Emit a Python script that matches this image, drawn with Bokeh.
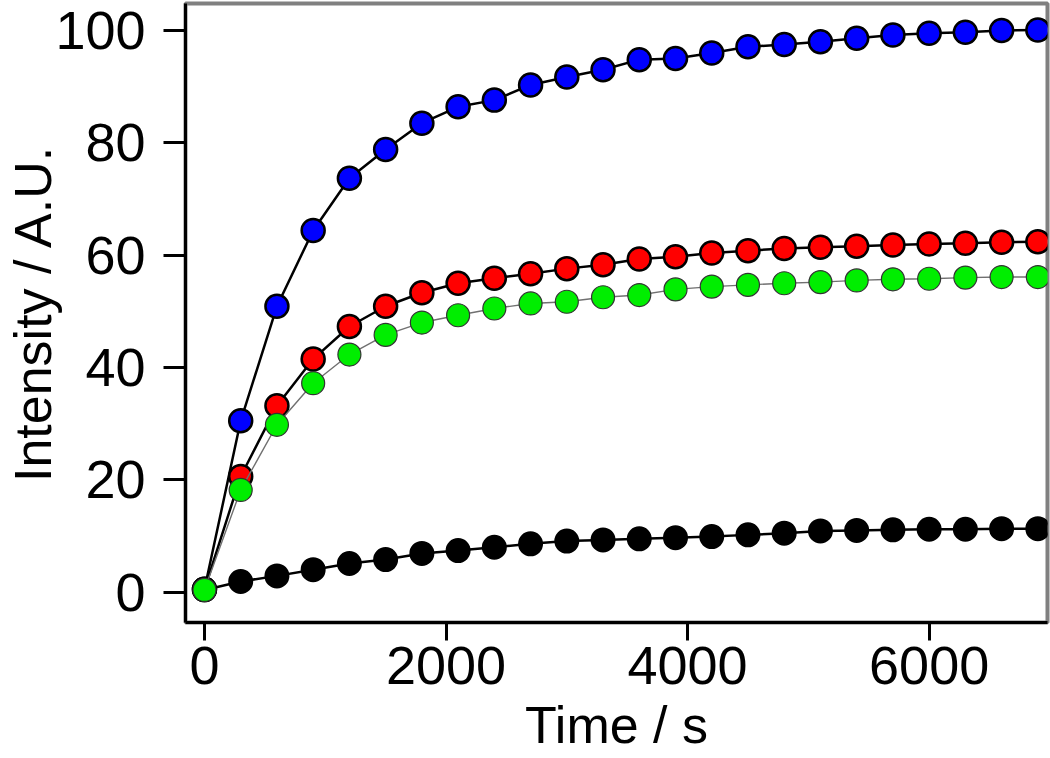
from bokeh.plotting import figure
from bokeh.models import Range1d, FixedTicker
from bokeh.embed import file_html
from bokeh.resources import INLINE

time_s = [0, 300, 600, 900, 1200, 1500, 1800, 2100, 2400, 2700, 3000, 3300,
          3600, 3900, 4200, 4500, 4800, 5100, 5400, 5700, 6000, 6300, 6600, 6900]

blue_vals = [0.5, 30.5, 50.9, 64.4, 73.7, 78.8, 83.5, 86.4, 87.6, 90.3, 91.7, 93.0,
             94.8, 95.0, 96.0, 97.1, 97.5, 98.0, 98.6, 99.2, 99.5, 99.7, 100.0, 100.1]
red_vals = [0.5, 20.6, 33.2, 41.5, 47.3, 50.9, 53.3, 55.0, 55.9, 56.7, 57.6, 58.3,
            59.3, 59.7, 60.4, 60.8, 61.2, 61.4, 61.6, 61.8, 62.0, 62.1, 62.3, 62.4]
green_vals = [0.4, 18.2, 29.8, 37.2, 42.3, 45.8, 48.0, 49.3, 50.5, 51.4, 51.7, 52.5,
              52.9, 53.9, 54.4, 54.7, 55.0, 55.2, 55.5, 55.7, 55.8, 56.0, 56.1, 56.1]
black_vals = [0.4, 1.9, 2.9, 4.0, 5.1, 5.8, 6.9, 7.4, 8.0, 8.6, 9.1, 9.3,
              9.5, 9.7, 9.9, 10.2, 10.5, 10.9, 11.0, 11.1, 11.2, 11.2, 11.3, 11.3]

x_ticks = [0, 2000, 4000, 6000]
y_ticks = [0, 20, 40, 60, 80, 100]
x_title = "Time / s"
y_title = "Intensity / A.U."

FONT = "Liberation Sans"

p = figure(width=1050, height=758, output_backend="svg", toolbar_location=None,
           x_range=Range1d(-157, 6980), y_range=Range1d(-5.4, 104.8),
           min_border_left=185, min_border_right=3, min_border_top=3,
           min_border_bottom=136)
p.grid.visible = False
p.background_fill_color = "white"
p.border_fill_color = "white"
p.outline_line_color = "#808080"
p.outline_line_width = 4

for ax in (p.xaxis, p.yaxis):
    ax.axis_line_color = "black"
    ax.axis_line_width = 3
    ax.major_tick_line_color = "black"
    ax.major_tick_line_width = 3
    ax.major_tick_in = 0
    ax.minor_tick_line_color = None
    ax.major_label_text_font = FONT
    ax.major_label_text_font_size = "54px"
    ax.major_label_text_color = "black"
    ax.axis_label_text_font = FONT
    ax.axis_label_text_font_size = "52px"
    ax.axis_label_text_font_style = "normal"
    ax.axis_label_text_color = "black"

p.xaxis.ticker = FixedTicker(ticks=x_ticks)
p.yaxis.ticker = FixedTicker(ticks=y_ticks)
p.xaxis.major_tick_out = 18
p.yaxis.major_tick_out = 22
p.xaxis.major_label_standoff = 6
p.yaxis.major_label_standoff = 18

p.xaxis.axis_label = x_title
p.xaxis.axis_label_standoff = 9
p.yaxis.axis_label = y_title
p.yaxis.axis_label_standoff = -10

series = [
    (blue_vals, "#0000FF", "black", 2.5, "black", 2.5),
    (red_vals, "#FF0000", "black", 2.5, "black", 2.5),
    (black_vals, "black", "black", 2.5, "black", 2.0),
    (green_vals, "#00EE00", "#707070", 1.4, "#333333", 1.2),
]
for vals, fill, lcol, lw, ocol, ow in series:
    p.line(time_s, vals, line_color=lcol, line_width=lw)
    p.scatter(time_s, vals, size=23, fill_color=fill, line_color=ocol, line_width=ow)

open("out.html", "w").write(file_html(p, INLINE))
